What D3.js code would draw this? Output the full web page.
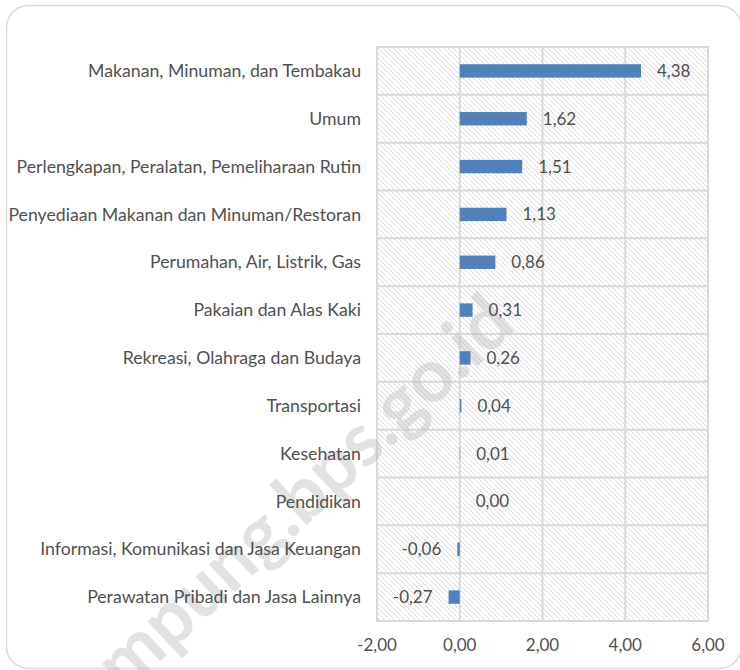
<!DOCTYPE html>
<html>
<head>
<meta charset="utf-8">
<script src="https://cdn.jsdelivr.net/npm/d3@7"></script>
<style>
  body { margin: 0; background: #fff; }
  text { font-family: "Lato", "Open Sans", sans-serif; }
</style>
</head>
<body>
<div id="chart-area"></div>
<script>
// categories, top to bottom
var categories = [
  "Makanan, Minuman, dan Tembakau",
  "Umum",
  "Perlengkapan, Peralatan, Pemeliharaan Rutin",
  "Penyediaan Makanan dan Minuman/Restoran",
  "Perumahan, Air, Listrik, Gas ",
  "Pakaian dan Alas Kaki",
  "Rekreasi, Olahraga dan Budaya",
  "Transportasi",
  "Kesehatan",
  "Pendidikan",
  "Informasi, Komunikasi dan Jasa Keuangan",
  "Perawatan Pribadi dan Jasa Lainnya"
];
var values = [4.38, 1.62, 1.51, 1.13, 0.86, 0.31, 0.26, 0.04, 0.01, 0.00, -0.06, -0.27];
var ticks = [-2, 0, 2, 4, 6];

// comma decimals, plain hyphen for negatives
var fmt = function(v) { return v.toFixed(2).replace(".", ","); };

var svg = d3.select("#chart-area").append("svg")
    .attr("width", 740)
    .attr("height", 670);

// hatch pattern
var pat = svg.append("defs").append("pattern")
    .attr("id", "hatch")
    .attr("patternUnits", "userSpaceOnUse")
    .attr("width", 5)
    .attr("height", 5);
pat.append("rect").attr("width", 5).attr("height", 5).attr("fill", "#fff");
pat.append("path")
    .attr("d", "M-1,-1 L6,6 M-1,4 L1,6 M4,-1 L6,1")
    .attr("stroke", "#d9d9d9")
    .attr("stroke-width", 1);

// outer frame
svg.append("rect")
    .attr("x", 6.5)
    .attr("y", 5.5)
    .attr("width", 735)
    .attr("height", 663)
    .attr("rx", 22)
    .attr("fill", "#fff")
    .attr("stroke", "#d9d9d9")
    .attr("stroke-width", 1.5);

var x = d3.scaleLinear().domain([-2, 6]).range([377, 708]);
var y = d3.scaleBand().domain(categories).range([47, 621]);

// plot background
svg.append("rect")
    .attr("x", x(-2))
    .attr("y", 47)
    .attr("width", x(6) - x(-2))
    .attr("height", 621 - 47)
    .attr("fill", "url(#hatch)");

// grid
svg.selectAll(".vgrid").data(ticks).enter().append("line")
    .attr("x1", function(d) { return x(d); })
    .attr("x2", function(d) { return x(d); })
    .attr("y1", 47)
    .attr("y2", 621)
    .attr("stroke", "#d9d9d9")
    .attr("stroke-width", 2);

var bounds = categories.map(function(c) { return y(c); }).concat([621]);
svg.selectAll(".hgrid").data(bounds).enter().append("line")
    .attr("x1", x(-2) - 1)
    .attr("x2", x(6) + 1)
    .attr("y1", function(d) { return d; })
    .attr("y2", function(d) { return d; })
    .attr("stroke", "#d9d9d9")
    .attr("stroke-width", 2);

// watermark (behind the marks and labels, runs off the bottom edge like the source)
svg.append("text")
    .attr("transform", "translate(518,328) rotate(-43)")
    .attr("text-anchor", "end")
    .attr("font-size", 74)
    .attr("font-weight", "bold")
    .attr("fill", "#bfbfbf")
    .attr("opacity", 0.45)
    .text("lampung.bps.go.id");

// bars
var bh = y.bandwidth() * 0.28;
svg.selectAll(".bar").data(values).enter().append("rect")
    .attr("x", function(d) { return Math.min(x(d), x(0)); })
    .attr("y", function(d, i) { return y(categories[i]) + (y.bandwidth() - bh) / 2; })
    .attr("width", function(d) { return Math.abs(x(d) - x(0)); })
    .attr("height", bh)
    .attr("fill", "#4f81bd");

// value labels
svg.selectAll(".val").data(values).enter().append("text")
    .attr("x", function(d) { return d < 0 ? x(d) - 16 : x(d) + 16; })
    .attr("y", function(d, i) { return y(categories[i]) + y.bandwidth() / 2; })
    .attr("dy", "0.35em")
    .attr("text-anchor", function(d) { return d < 0 ? "end" : "start"; })
    .attr("font-size", 17)
    .attr("fill", "#505050")
    .text(fmt);

// category labels
svg.selectAll(".cat").data(categories).enter().append("text")
    .attr("x", 361)
    .attr("y", function(d) { return y(d) + y.bandwidth() / 2; })
    .attr("dy", "0.35em")
    .attr("text-anchor", "end")
    .attr("font-size", 17.7)
    .attr("fill", "#505050")
    .text(function(d) { return d; });

// x tick labels
svg.selectAll(".tick").data(ticks).enter().append("text")
    .attr("x", function(d) { return x(d); })
    .attr("y", 645)
    .attr("dy", "0.35em")
    .attr("text-anchor", "middle")
    .attr("font-size", 17)
    .attr("fill", "#505050")
    .text(fmt);
</script>
</body>
</html>
